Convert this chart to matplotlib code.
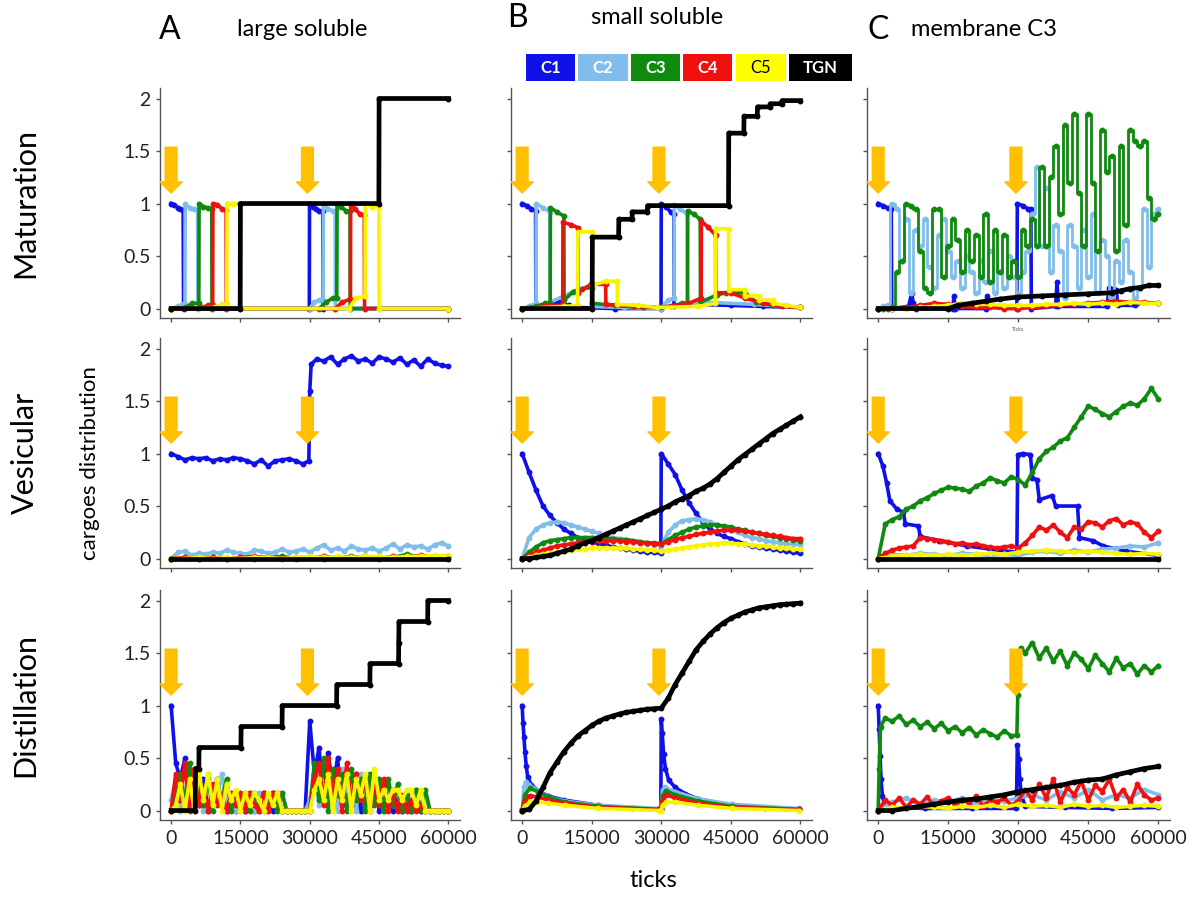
import matplotlib.pyplot as plt
from matplotlib.patches import Rectangle

plt.rcParams['font.family'] = ['Lato', 'DejaVu Sans']

SERIES = ['C1', 'C2', 'C3', 'C4', 'C5', 'TGN']
COLORS = {'C1': '#1010e8', 'C2': '#80bdea', 'C3': '#0f8a0f',
          'C4': '#f01010', 'C5': '#f8f400', 'TGN': '#000000'}
COL_TITLES = ['large soluble', 'small soluble', 'membrane C3']
COL_LETTERS = ['A', 'B', 'C']
ROW_TITLES = ['Maturation', 'Vesicular', 'Distillation']
X_TICKS = [0, 15000, 30000, 45000, 60000]
Y_TICKS = [0, 0.5, 1, 1.5, 2]
Y_TICKLABELS = ['0', '0.5', '1', '1.5', '2']
ARROW_X = [0, 29500]
ARROW_TIP = 1.1

# sampling grids (ticks)
G1000 = list(range(0, 60001, 1000))
G1500 = list(range(0, 60001, 1500))
G3000 = list(range(0, 60001, 3000))

# ---------------- A: large soluble ----------------
# maturation
A1_C1_X = [0, 700, 1400, 2000, 2600, 2700, 29900, 29950, 30700, 31400, 32100, 32800, 32900, 60000]
A1_C1_Y = [1.0, 0.99, 0.96, 0.95, 0.94, 0.0, 0.0, 1.0, 0.97, 0.95, 0.93, 0.93, 0.0, 0.0]
A1_C2_X = [0, 1500, 2500, 3000, 3050, 4000, 5000, 5750, 5800, 29950, 31000, 32000, 32900, 32950, 34000, 35000, 35500, 35550, 60000]
A1_C2_Y = [0.0, 0.02, 0.04, 0.04, 1.0, 0.96, 0.95, 0.94, 0.0, 0.0, 0.06, 0.08, 0.08, 1.0, 0.95, 0.93, 0.93, 0.0, 0.0]
A1_C3_X = [0, 3200, 4500, 6000, 6050, 7000, 8000, 8800, 8850, 32000, 33500, 35000, 35850, 35900, 36800, 37800, 38700, 38750, 60000]
A1_C3_Y = [0.0, 0.01, 0.05, 0.05, 1.0, 0.97, 0.96, 0.95, 0.0, 0.0, 0.06, 0.1, 0.1, 1.0, 0.97, 0.93, 0.93, 0.0, 0.0]
A1_C4_X = [0, 6500, 8000, 9000, 9050, 10000, 11000, 11900, 11950, 35500, 37000, 38800, 38850, 39800, 40800, 41800, 41850, 60000]
A1_C4_Y = [0.0, 0.01, 0.03, 0.03, 1.0, 0.99, 0.95, 0.94, 0.0, 0.0, 0.06, 0.09, 1.0, 0.95, 0.9, 0.89, 0.0, 0.0]
A1_C5_X = [0, 9500, 11000, 12050, 12100, 13500, 14800, 14850, 38500, 40000, 41950, 42000, 43500, 44950, 45000, 60000]
A1_C5_Y = [0.0, 0.01, 0.04, 0.04, 1.0, 1.0, 1.0, 0.0, 0.0, 0.1, 0.12, 1.0, 0.97, 0.97, 0.0, 0.0]
A1_TGN_X = [0, 14950, 15000, 44950, 45000, 60000]
A1_TGN_Y = [0, 0, 1, 1, 2, 2]

# vesicular
A2_C1_X = G1500[:20] + [29800, 30000, 30300] + G1500[21:]
A2_C1_Y = [1.0, 0.97, 0.94, 0.96, 0.95, 0.96, 0.93, 0.95, 0.94, 0.96,
           0.95, 0.93, 0.9, 0.94, 0.88, 0.93, 0.94, 0.95, 0.93, 0.9,
           0.93, 1.6, 1.85,
           1.9, 1.88, 1.92, 1.85, 1.9, 1.93, 1.88, 1.9, 1.86, 1.92,
           1.9, 1.87, 1.91, 1.85, 1.89, 1.83, 1.9, 1.86, 1.84, 1.83]
A2_C2_Y = [0.0, 0.06, 0.07, 0.03, 0.05, 0.04, 0.06, 0.05, 0.08, 0.06,
           0.05, 0.04, 0.08, 0.07, 0.05, 0.06, 0.09, 0.06, 0.07, 0.09,
           0.06, 0.1, 0.13, 0.08, 0.1, 0.07, 0.12, 0.09, 0.08, 0.1,
           0.07, 0.1, 0.14, 0.09, 0.13, 0.11, 0.12, 0.09, 0.13, 0.15, 0.12]
A2_C3_Y = [0.0, 0.01, 0.0, 0.01, 0.0, 0.01, 0.0, 0.01, 0.02, 0.0,
           0.01, 0.0, 0.01, 0.02, 0.01, 0.0, 0.01, 0.04, 0.01, 0.02, 0.01]
A2_C4_Y = [0.0, 0.01, 0.0, 0.01, 0.0, 0.01, 0.02, 0.01, 0.0, 0.01,
           0.01, 0.02, 0.01, 0.01, 0.02, 0.01, 0.02, 0.01, 0.03, 0.02, 0.02]
A2_C5_Y = [0.0, 0.0, 0.01, 0.0, 0.01, 0.0, 0.01, 0.01, 0.0, 0.01,
           0.02, 0.01, 0.02, 0.01, 0.02, 0.02, 0.01, 0.02, 0.02, 0.03, 0.02]
A2_TGN_X = [0, 60000]
A2_TGN_Y = [0, 0]

# distillation (1000-tick samples)
A3_C1_Y = [1.0, 0.45, 0.3, 0.5, 0.1, 0.2, 0.05, 0.3, 0.0, 0.1,
           0.3, 0.05, 0.0, 0.1, 0.0, 0.05, 0.0, 0.12, 0.0, 0.05,
           0.0, 0.15, 0.0, 0.05, 0.0, 0.0, 0.0, 0.0, 0.0, 0.0,
           0.85, 0.35, 0.6, 0.1, 0.55, 0.2, 0.5, 0.05, 0.3, 0.1,
           0.35, 0.0, 0.2, 0.05, 0.3, 0.0, 0.1, 0.2, 0.0, 0.15,
           0.0, 0.05, 0.0, 0.1, 0.0, 0.0, 0.0, 0.0, 0.0, 0.0, 0.0]
A3_C2_Y = [0.1, 0.3, 0.0, 0.2, 0.35, 0.05, 0.3, 0.0, 0.35, 0.05,
           0.2, 0.35, 0.0, 0.17, 0.0, 0.17, 0.05, 0.17, 0.0, 0.17,
           0.17, 0.0, 0.17, 0.05, 0.17, 0.0, 0.0, 0.0, 0.0, 0.0,
           0.1, 0.4, 0.05, 0.35, 0.1, 0.3, 0.0, 0.4, 0.1, 0.3,
           0.0, 0.35, 0.05, 0.25, 0.1, 0.3, 0.0, 0.2, 0.05, 0.2,
           0.0, 0.18, 0.05, 0.2, 0.0, 0.15, 0.0, 0.0, 0.0, 0.0, 0.0]
A3_C3_Y = [0.0, 0.2, 0.35, 0.05, 0.45, 0.1, 0.25, 0.05, 0.3, 0.0,
           0.25, 0.1, 0.3, 0.0, 0.17, 0.05, 0.17, 0.0, 0.17, 0.0,
           0.17, 0.05, 0.17, 0.0, 0.17, 0.0, 0.0, 0.0, 0.0, 0.0,
           0.0, 0.45, 0.1, 0.5, 0.0, 0.4, 0.15, 0.35, 0.0, 0.4,
           0.1, 0.3, 0.0, 0.35, 0.05, 0.3, 0.0, 0.3, 0.05, 0.25,
           0.0, 0.15, 0.0, 0.2, 0.0, 0.2, 0.0, 0.0, 0.0, 0.0, 0.0]
A3_C4_Y = [0.0, 0.35, 0.1, 0.45, 0.0, 0.4, 0.05, 0.2, 0.0, 0.25,
           0.05, 0.15, 0.0, 0.17, 0.05, 0.17, 0.0, 0.17, 0.05, 0.0,
           0.17, 0.0, 0.17, 0.17, 0.0, 0.0, 0.0, 0.0, 0.0, 0.0,
           0.0, 0.3, 0.45, 0.05, 0.5, 0.1, 0.4, 0.0, 0.45, 0.05,
           0.35, 0.1, 0.3, 0.0, 0.25, 0.05, 0.3, 0.0, 0.2, 0.0,
           0.15, 0.0, 0.1, 0.0, 0.05, 0.0, 0.0, 0.0, 0.0, 0.0, 0.0]
A3_C5_Y = [0.0, 0.05, 0.25, 0.0, 0.3, 0.0, 0.38, 0.1, 0.35, 0.05,
           0.3, 0.0, 0.25, 0.1, 0.2, 0.0, 0.17, 0.05, 0.17, 0.1,
           0.0, 0.17, 0.05, 0.17, 0.0, 0.0, 0.0, 0.0, 0.0, 0.0,
           0.0, 0.2, 0.3, 0.1, 0.35, 0.0, 0.3, 0.1, 0.35, 0.0,
           0.3, 0.15, 0.35, 0.0, 0.4, 0.1, 0.2, 0.1, 0.2, 0.2,
           0.1, 0.2, 0.2, 0.05, 0.2, 0.0, 0.0, 0.0, 0.0, 0.0, 0.0]
A3_TGN_X = [0, 5200, 5300, 6000, 6050, 15100, 15150, 24000, 24050, 35800, 35850,
            43000, 43050, 49200, 49250, 49300, 55500, 55550, 60000]
A3_TGN_Y = [0, 0, 0.4, 0.4, 0.6, 0.6, 0.8, 0.8, 1.0, 1.0, 1.2,
            1.2, 1.4, 1.4, 1.6, 1.8, 1.8, 2.0, 2.0]

# ---------------- B: small soluble ----------------
B1_C1_X = [0, 1000, 2000, 2900, 2950, 6000, 8000, 10000, 12000, 20000, 29950, 30000, 31000, 32000, 32700, 32750, 37000, 45000, 52000, 60000]
B1_C1_Y = [1.0, 0.98, 0.95, 0.93, 0.02, 0.04, 0.06, 0.03, 0.01, 0.0, 0.0, 1.0, 0.97, 0.92, 0.9, 0.02, 0.04, 0.03, 0.02, 0.01]
B1_C2_X = [0, 1500, 3000, 3050, 4500, 6000, 6050, 9000, 12000, 15000, 15050, 22000, 29900, 31500, 32750, 32800, 34000, 35600, 35650, 40000, 50000, 60000]
B1_C2_Y = [0.0, 0.02, 0.05, 1.0, 0.96, 0.92, 0.06, 0.12, 0.18, 0.22, 0.02, 0.01, 0.0, 0.08, 0.1, 0.99, 0.95, 0.9, 0.04, 0.06, 0.04, 0.01]
B1_C3_X = [0, 3000, 5000, 6050, 6100, 7500, 9000, 9050, 11000, 13000, 15100, 15150, 20000, 26000, 32000, 34500, 35650, 35700, 37000, 38400, 38450, 42000, 44000, 48000, 50500, 54000, 60000]
B1_C3_Y = [0.0, 0.02, 0.05, 0.05, 0.96, 0.92, 0.88, 0.08, 0.16, 0.19, 0.2, 0.05, 0.03, 0.01, 0.02, 0.05, 0.05, 0.93, 0.9, 0.85, 0.06, 0.13, 0.15, 0.15, 0.06, 0.03, 0.01]
B1_C4_X = [0, 6000, 8750, 8800, 10500, 12000, 12050, 14800, 18000, 18050, 24000, 30000, 36000, 38600, 38650, 40000, 41700, 41750, 45000, 48000, 52000, 56000, 60000]
B1_C4_Y = [0.0, 0.03, 0.03, 0.82, 0.8, 0.77, 0.15, 0.23, 0.23, 0.04, 0.02, 0.01, 0.05, 0.1, 0.83, 0.78, 0.7, 0.15, 0.15, 0.1, 0.05, 0.02, 0.01]
B1_C5_X = [0, 9000, 11950, 12000, 15100, 15150, 18000, 20500, 20550, 25000, 29000, 38000, 41650, 41700, 44500, 44550, 48000, 48050, 51000, 51050, 54000, 54050, 57000, 60000]
B1_C5_Y = [0.0, 0.02, 0.03, 0.73, 0.73, 0.22, 0.26, 0.26, 0.04, 0.03, 0.01, 0.02, 0.05, 0.76, 0.76, 0.18, 0.18, 0.12, 0.12, 0.08, 0.08, 0.05, 0.03, 0.01]
B1_TGN_X = [0, 15100, 15150, 20800, 20850, 23700, 23750, 27000, 27050, 44500, 44550, 47800, 47850, 50700, 50750, 53500, 53550, 56000, 56050, 60000]
B1_TGN_Y = [0, 0, 0.68, 0.68, 0.85, 0.85, 0.92, 0.92, 0.98, 0.98, 1.67, 1.67, 1.83, 1.83, 1.92, 1.92, 1.95, 1.95, 1.98, 1.98]

B2_C1_X = G1500[:20] + [29900, 30000] + G1500[21:]
B2_C1_Y = [1.0, 0.82, 0.65, 0.5, 0.41, 0.34, 0.28, 0.24, 0.2, 0.18,
           0.16, 0.14, 0.13, 0.11, 0.1, 0.09, 0.08, 0.07, 0.06, 0.06,
           0.05, 1.0,
           0.9, 0.8, 0.65, 0.53, 0.43, 0.34, 0.28, 0.24, 0.21, 0.19,
           0.16, 0.14, 0.12, 0.11, 0.1, 0.09, 0.08, 0.07, 0.06, 0.05]
B2_C2_Y = [0.0, 0.2, 0.28, 0.32, 0.34, 0.35, 0.34, 0.32, 0.3, 0.28,
           0.26, 0.24, 0.22, 0.2, 0.19, 0.18, 0.16, 0.15, 0.14, 0.13,
           0.12, 0.25, 0.32, 0.36, 0.37, 0.38, 0.37, 0.35, 0.32, 0.3,
           0.27, 0.25, 0.22, 0.2, 0.19, 0.17, 0.16, 0.15, 0.14, 0.14, 0.13]
B2_C3_Y = [0.0, 0.06, 0.11, 0.15, 0.17, 0.18, 0.19, 0.2, 0.2, 0.2,
           0.2, 0.2, 0.19, 0.19, 0.18, 0.18, 0.17, 0.16, 0.15, 0.15,
           0.14, 0.18, 0.22, 0.25, 0.28, 0.3, 0.31, 0.32, 0.32, 0.31,
           0.3, 0.28, 0.27, 0.25, 0.24, 0.22, 0.21, 0.2, 0.19, 0.18, 0.17]
B2_C4_Y = [0.0, 0.03, 0.06, 0.08, 0.1, 0.12, 0.13, 0.14, 0.15, 0.16,
           0.16, 0.17, 0.17, 0.17, 0.17, 0.16, 0.16, 0.15, 0.15, 0.14,
           0.14, 0.16, 0.18, 0.2, 0.21, 0.23, 0.24, 0.25, 0.26, 0.27,
           0.27, 0.27, 0.26, 0.25, 0.24, 0.23, 0.22, 0.21, 0.2, 0.19, 0.19]
B2_C5_Y = [0.0, 0.01, 0.03, 0.04, 0.05, 0.06, 0.07, 0.08, 0.09, 0.09,
           0.1, 0.1, 0.1, 0.1, 0.1, 0.1, 0.09, 0.09, 0.08, 0.08,
           0.07, 0.08, 0.09, 0.1, 0.11, 0.12, 0.13, 0.14, 0.14, 0.15,
           0.15, 0.14, 0.14, 0.13, 0.12, 0.12, 0.11, 0.1, 0.1, 0.09, 0.09]
B2_TGN_Y = [0.0, 0.0, 0.01, 0.02, 0.03, 0.05, 0.07, 0.09, 0.12, 0.15,
            0.17, 0.2, 0.23, 0.26, 0.29, 0.32, 0.35, 0.38, 0.41, 0.44,
            0.47, 0.5, 0.54, 0.57, 0.6, 0.64, 0.67, 0.71, 0.76, 0.82,
            0.88, 0.94, 0.99, 1.04, 1.09, 1.14, 1.19, 1.23, 1.27, 1.31, 1.35]

B3_C1_X = [0, 200, 400, 600, 900, 1200, 2000, 3500, 5500, 9000, 16400, 23600, 29500,
           29900, 30000, 30200, 30500, 30900, 31600, 33000, 35200, 38000, 45200, 52400, 59600]
B3_C1_Y = [1.0, 0.83, 0.7, 0.56, 0.42, 0.32, 0.24, 0.19, 0.14, 0.1, 0.05, 0.02, 0.01,
           0.01, 0.87, 0.74, 0.54, 0.4, 0.29, 0.22, 0.16, 0.11, 0.05, 0.02, 0.01]
B3_C2_X = [0, 400, 800, 1500, 3500, 5600, 9200, 16400, 29500, 29900, 30300, 30800, 33000, 38000, 45200, 59600]
B3_C2_Y = [0.0, 0.22, 0.27, 0.24, 0.19, 0.13, 0.09, 0.05, 0.02, 0.02, 0.2, 0.22, 0.18, 0.11, 0.06, 0.02]
B3_LOW_X = [0, 600, 1600, 3500, 5600, 9200, 16400, 29500, 29900, 30300, 31000, 33000, 38000, 45200, 59600]
B3_C3_Y = [0.0, 0.15, 0.21, 0.18, 0.13, 0.08, 0.04, 0.01, 0.01, 0.14, 0.19, 0.15, 0.09, 0.04, 0.01]
B3_C4_Y = [0.0, 0.09, 0.14, 0.13, 0.1, 0.07, 0.03, 0.01, 0.01, 0.1, 0.15, 0.12, 0.07, 0.03, 0.01]
B3_C5_Y = [0.0, 0.04, 0.08, 0.08, 0.07, 0.05, 0.02, 0.0, 0.0, 0.05, 0.08, 0.08, 0.05, 0.02, 0.0]
B3_TGN_Y = [0.0, 0.01, 0.09, 0.22, 0.36, 0.46, 0.56, 0.64, 0.71, 0.76,
            0.81, 0.85, 0.88, 0.9, 0.92, 0.935, 0.945, 0.955, 0.965, 0.97,
            0.975, 1.07, 1.2, 1.31, 1.42, 1.53, 1.61, 1.68, 1.74, 1.79,
            1.83, 1.86, 1.89, 1.91, 1.93, 1.94, 1.95, 1.96, 1.965, 1.97, 1.975]

# ---------------- C: membrane C3 ----------------
C1_C1_X = [0, 1000, 2000, 2800, 2900, 6500, 7200, 7500, 8000, 16000, 16200, 16500, 23000, 23300, 23600,
           29700, 29800, 31000, 32000, 32700, 32800, 38000, 38300, 38600, 49000, 49500, 51000, 51300,
           55000, 55500, 60000]
C1_C1_Y = [1.0, 0.98, 0.96, 0.95, 0.0, 0.02, 0.15, 0.05, 0.0, 0.0, 0.12, 0.0, 0.0, 0.12, 0.02,
           0.0, 1.0, 0.98, 0.95, 0.95, 0.0, 0.02, 0.25, 0.02, 0.02, 0.2, 0.18, 0.03,
           0.03, 0.05, 0.05]
C1_C2_Y = [0.0, 0.02, 0.03, 1.0, 0.95, 0.45, 0.85, 0.15, 0.75, 0.6,
           0.85, 0.4, 0.2, 0.7, 0.85, 0.55, 0.3, 0.45, 0.2, 0.5,
           0.35, 0.15, 0.45, 0.25, 0.55, 0.15, 0.35, 0.2, 0.5, 0.3,
           0.15, 0.35, 0.55, 0.9, 1.35, 0.6, 1.15, 0.35, 0.8, 0.55,
           0.1, 0.8, 0.6, 0.2, 0.75, 0.3, 0.9, 0.15, 0.65, 0.5,
           0.1, 0.45, 0.25, 0.65, 0.35, 0.1, 0.2, 0.95, 0.4, 0.9, 0.95]
C1_C3_Y = [0.0, 0.0, 0.0, 0.01, 0.35, 0.45, 1.0, 0.98, 0.95, 0.55,
           0.2, 0.15, 0.95, 0.95, 0.3, 0.6, 0.85, 0.65, 0.35, 0.75,
           0.45, 0.7, 0.3, 0.9, 0.25, 0.75, 0.35, 0.7, 0.3, 0.45,
           0.3, 0.75, 0.6, 0.85, 0.6, 1.35, 0.6, 1.25, 1.55, 0.9,
           1.75, 1.2, 1.85, 1.1, 0.6, 1.85, 1.2, 0.55, 1.7, 1.3,
           1.45, 0.55, 1.55, 0.8, 1.7, 1.6, 1.55, 1.6, 1.05, 0.85, 0.9]
C1_C4_Y = [0.0, 0.0, 0.01, 0.03, 0.05, 0.04, 0.02, 0.01, 0.01, 0.0,
           0.0, 0.01, 0.02, 0.03, 0.04, 0.05, 0.06, 0.07, 0.06, 0.06, 0.05]
C1_C5_Y = [0.0, 0.0, 0.0, 0.01, 0.02, 0.03, 0.05, 0.04, 0.04, 0.03,
           0.03, 0.03, 0.04, 0.04, 0.05, 0.04, 0.05, 0.04, 0.06, 0.05, 0.05]
C1_TGN_X = [0, 15000, 17000, 20000, 23000, 26000, 30000, 35000, 40000, 45000, 50000, 52000, 54000, 56000, 58000, 60000]
C1_TGN_Y = [0, 0, 0.03, 0.05, 0.07, 0.09, 0.11, 0.12, 0.13, 0.14, 0.15, 0.17, 0.19, 0.2, 0.22, 0.22]

C2_C1_X = [0, 1000, 1800, 2500, 4000, 5400, 5800, 8600, 9000, 13000, 19000, 24000, 29700, 29900,
           31000, 32600, 33000, 34000, 34500, 37300, 38000, 42700, 43100, 46000, 48200, 53000, 60000]
C2_C1_Y = [1.0, 0.88, 0.72, 0.55, 0.47, 0.44, 0.33, 0.31, 0.21, 0.17, 0.12, 0.09, 0.06, 0.99,
           1.0, 0.99, 0.77, 0.75, 0.56, 0.6, 0.5, 0.5, 0.2, 0.17, 0.12, 0.07, 0.03]
C2_C2_Y = [0.0, 0.04, 0.03, 0.05, 0.04, 0.03, 0.05, 0.04, 0.03, 0.04,
           0.03, 0.06, 0.07, 0.05, 0.08, 0.06, 0.09, 0.1, 0.12, 0.11, 0.15]
C2_C3_Y = [0.0, 0.33, 0.37, 0.4, 0.47, 0.5, 0.55, 0.58, 0.62, 0.65,
           0.68, 0.67, 0.66, 0.64, 0.69, 0.72, 0.77, 0.74, 0.72, 0.78,
           0.75, 0.7, 0.82, 0.95, 1.02, 1.06, 1.12, 1.15, 1.25, 1.35,
           1.45, 1.42, 1.38, 1.35, 1.4, 1.45, 1.48, 1.46, 1.52, 1.62, 1.52]
C2_C4_Y = [0.0, 0.05, 0.08, 0.1, 0.11, 0.12, 0.2, 0.19, 0.18, 0.17,
           0.16, 0.14, 0.15, 0.13, 0.14, 0.12, 0.11, 0.1, 0.11, 0.12,
           0.1, 0.15, 0.22, 0.3, 0.27, 0.32, 0.25, 0.2, 0.3, 0.28,
           0.35, 0.34, 0.3, 0.36, 0.38, 0.32, 0.35, 0.33, 0.25, 0.2, 0.26]
C2_C5_Y = [0.0, 0.02, 0.03, 0.04, 0.03, 0.04, 0.03, 0.04, 0.05, 0.04,
           0.06, 0.07, 0.08, 0.07, 0.06, 0.07, 0.06, 0.05, 0.04, 0.05, 0.04]
C2_TGN_X = [0, 60000]
C2_TGN_Y = [0, 0]

C3_C1_X = [0, 200, 400, 600, 900, 1500, 10000, 20000, 29600, 29800, 30100, 30300, 30700, 31500, 40000, 50000, 60000]
C3_C1_Y = [1.0, 0.78, 0.52, 0.3, 0.14, 0.03, 0.02, 0.02, 0.02, 0.62, 0.49, 0.3, 0.14, 0.04, 0.03, 0.02, 0.03]
C3_C2_Y = [0.0, 0.08, 0.12, 0.05, 0.1, 0.08, 0.12, 0.06, 0.1, 0.09,
           0.12, 0.15, 0.1, 0.18, 0.12, 0.2, 0.1, 0.15, 0.12, 0.2, 0.15]
C3_C3_X = [0, 200, 500] + G1500[1:20] + [29700, 29900, 30200, 30500] + G1500[21:]
C3_C3_Y = [0.0, 0.4, 0.8,
           0.88, 0.85, 0.9, 0.82, 0.86, 0.8, 0.84, 0.78, 0.83, 0.76,
           0.8, 0.74, 0.79, 0.72, 0.77, 0.73, 0.7, 0.76, 0.71,
           0.72, 1.1, 1.4, 1.55,
           1.5, 1.6, 1.45, 1.55, 1.42, 1.52, 1.38, 1.5, 1.44, 1.35,
           1.48, 1.4, 1.32, 1.45, 1.36, 1.4, 1.3, 1.38, 1.32, 1.38]
C3_C4_Y = [0.0, 0.1, 0.05, 0.12, 0.03, 0.1, 0.06, 0.13, 0.04, 0.09,
           0.12, 0.05, 0.1, 0.07, 0.14, 0.04, 0.1, 0.08, 0.12, 0.05,
           0.09, 0.2, 0.1, 0.25, 0.12, 0.3, 0.08, 0.22, 0.15, 0.28,
           0.1, 0.24, 0.18, 0.3, 0.12, 0.2, 0.08, 0.25, 0.15, 0.1, 0.12]
C3_C5_Y = [0.0, 0.03, 0.02, 0.04, 0.03, 0.02, 0.04, 0.03, 0.05, 0.03,
           0.06, 0.04, 0.05, 0.03, 0.06, 0.04, 0.05, 0.03, 0.04, 0.05, 0.04]
C3_TGN_Y = [0.0, 0.0, 0.02, 0.04, 0.06, 0.08, 0.1, 0.11, 0.13, 0.15,
            0.18, 0.2, 0.22, 0.24, 0.27, 0.29, 0.3, 0.34, 0.37, 0.4, 0.42]


def series(*pairs):
    return dict(zip(SERIES, pairs))


PANELS = [
    [series((A1_C1_X, A1_C1_Y), (A1_C2_X, A1_C2_Y), (A1_C3_X, A1_C3_Y),
            (A1_C4_X, A1_C4_Y), (A1_C5_X, A1_C5_Y), (A1_TGN_X, A1_TGN_Y)),
     series((B1_C1_X, B1_C1_Y), (B1_C2_X, B1_C2_Y), (B1_C3_X, B1_C3_Y),
            (B1_C4_X, B1_C4_Y), (B1_C5_X, B1_C5_Y), (B1_TGN_X, B1_TGN_Y)),
     series((C1_C1_X, C1_C1_Y), (G1000, C1_C2_Y), (G1000, C1_C3_Y),
            (G3000, C1_C4_Y), (G3000, C1_C5_Y), (C1_TGN_X, C1_TGN_Y))],
    [series((A2_C1_X, A2_C1_Y), (G1500, A2_C2_Y), (G3000, A2_C3_Y),
            (G3000, A2_C4_Y), (G3000, A2_C5_Y), (A2_TGN_X, A2_TGN_Y)),
     series((B2_C1_X, B2_C1_Y), (G1500, B2_C2_Y), (G1500, B2_C3_Y),
            (G1500, B2_C4_Y), (G1500, B2_C5_Y), (G1500, B2_TGN_Y)),
     series((C2_C1_X, C2_C1_Y), (G3000, C2_C2_Y), (G1500, C2_C3_Y),
            (G1500, C2_C4_Y), (G3000, C2_C5_Y), (C2_TGN_X, C2_TGN_Y))],
    [series((G1000, A3_C1_Y), (G1000, A3_C2_Y), (G1000, A3_C3_Y),
            (G1000, A3_C4_Y), (G1000, A3_C5_Y), (A3_TGN_X, A3_TGN_Y)),
     series((B3_C1_X, B3_C1_Y), (B3_C2_X, B3_C2_Y), (B3_LOW_X, B3_C3_Y),
            (B3_LOW_X, B3_C4_Y), (B3_LOW_X, B3_C5_Y), (G1500, B3_TGN_Y)),
     series((C3_C1_X, C3_C1_Y), (G3000, C3_C2_Y), (C3_C3_X, C3_C3_Y),
            (G1500, C3_C4_Y), (G3000, C3_C5_Y), (G3000, C3_TGN_Y))],
]
# membrane maturation: square-ish switching between compartments
STEPPED = {(0, 2): ['C2', 'C3']}

W, H = 1189, 897
fig = plt.figure(figsize=(W / 100, H / 100), dpi=100)

col_px = [(160, 460), (511, 812), (867, 1170)]
row_px = [(88, 318), (338, 568), (590, 820)]

for r in range(3):
    for c in range(3):
        x0, x1 = col_px[c]
        y0, y1 = row_px[r]
        ax = fig.add_axes([x0 / W, 1 - y1 / H, (x1 - x0) / W, (y1 - y0) / H])
        data = PANELS[r][c]
        steps = STEPPED.get((r, c), [])
        for name in SERIES:
            x, y = data[name]
            stepped = name in steps
            ax.plot(x, y, color=COLORS[name], lw=3.4 if name == 'TGN' else (2.0 if stepped else 2.6),
                    marker='o', ms=3.2, zorder=3 if name == 'TGN' else 2,
                    drawstyle='steps-mid' if stepped else 'default')
        for xa in ARROW_X:
            ax.annotate('', xy=(xa, ARROW_TIP), xytext=(0, 33), textcoords='offset points',
                        arrowprops=dict(arrowstyle='simple,head_length=0.8,head_width=1.6,tail_width=0.85',
                                        mutation_scale=10, color='#ffc000', shrinkA=0, shrinkB=0),
                        zorder=5)
        ax.set_xlim(-2400, 62500)
        ax.set_ylim(-0.09, 2.1)
        ax.set_xticks(X_TICKS)
        ax.set_yticks(Y_TICKS)
        ax.set_yticklabels(Y_TICKLABELS)
        for s in ['top', 'right']:
            ax.spines[s].set_visible(False)
        for s in ['left', 'bottom']:
            ax.spines[s].set_color('#555555')
            ax.spines[s].set_linewidth(1)
        ax.tick_params(length=3, width=1, color='#555555', labelsize=14, pad=4,
                       labelcolor='#222222')
        if c != 0:
            ax.tick_params(labelleft=False)
        if r != 2:
            ax.tick_params(labelbottom=False)
        if (r, c) == (0, 2):
            ax.text(0.5, -0.04, 'Ticks', transform=ax.transAxes, fontsize=4,
                    color='#555555', ha='center', va='top')

# column headers
letter_pos = [(170, 30), (517, 18), (878, 30)]
title_pos = [(302, 30), (657, 17), (984, 30)]
for i in range(3):
    fig.text(letter_pos[i][0] / W, 1 - letter_pos[i][1] / H, COL_LETTERS[i],
             fontsize=23, ha='center', va='center')
    fig.text(title_pos[i][0] / W, 1 - title_pos[i][1] / H, COL_TITLES[i],
             fontsize=17, ha='center', va='center')

# row labels
for i, (y0, y1) in enumerate(row_px):
    fig.text(25 / W, 1 - (y0 + y1) / 2 / H, ROW_TITLES[i], fontsize=22,
             rotation=90, ha='center', va='center')
fig.text(90 / W, 1 - 463 / H, 'cargoes distribution', fontsize=16,
         rotation=90, ha='center', va='center')
fig.text(653 / W, 1 - 880 / H, 'ticks', fontsize=17, ha='center', va='center')

# legend boxes
box_px = [(526, 575), (578, 628), (631, 680), (683, 732), (736, 786), (789, 852)]
for name, (bx0, bx1) in zip(SERIES, box_px):
    fc = '#ffff00' if name == 'C5' else COLORS[name]
    fig.add_artist(Rectangle((bx0 / W, 1 - 81 / H), (bx1 - bx0) / W, 27 / H,
                             transform=fig.transFigure, facecolor=fc, edgecolor='none'))
    fig.text((bx0 + bx1) / 2 / W, 1 - 67.5 / H, name,
             color='black' if name == 'C5' else 'white',
             fontweight='normal' if name == 'C5' else 'bold',
             fontsize=12, ha='center', va='center')

fig.savefig('out.png', dpi=100)
